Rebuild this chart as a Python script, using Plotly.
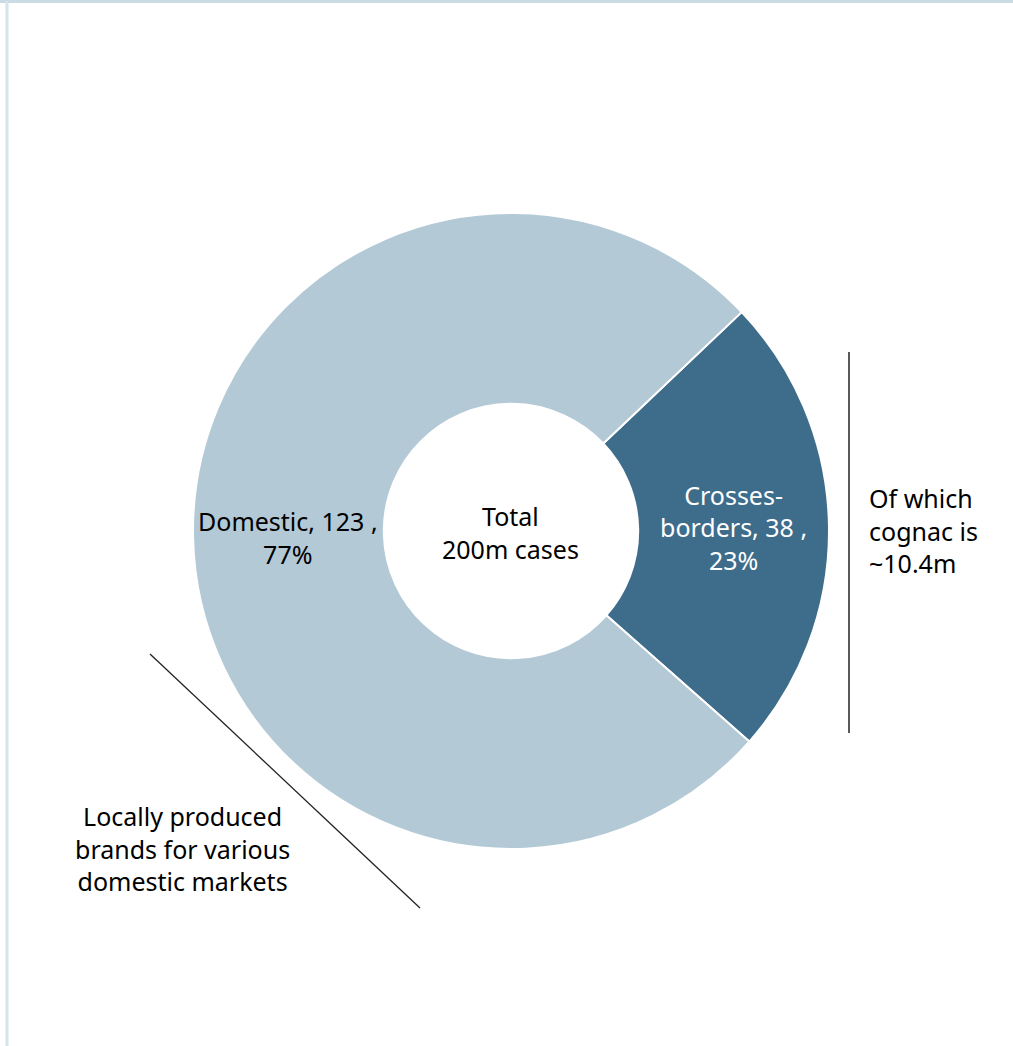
import plotly.graph_objects as go

# Spirits volume split (million cases)
segments = ["Crosses-<br>borders", "Domestic"]
volumes = [38, 123]
shares = [23, 77]
slice_colors = ["#3E6C8B", "#B3C9D6"]
text_colors = ["white", "black"]
total_label = "Total<br>200m cases"
cognac_note = "Of which<br>cognac is<br>~10.4m"
local_note = "Locally produced<br>brands for various<br>domestic markets"

W, H = 1013, 1046
FONT = "Noto Sans"
FS = 25

def px(x):
    return x / W

def py(y):
    return 1 - y / H

labels_text = [f"{s}, {v} ,<br>{p}%" for s, v, p in zip(segments, volumes, shares)]

# the large slice carries its label as an annotation so it stays centred in the ring
fig = go.Figure(
    go.Pie(
        labels=[s.replace("<br>", " ") for s in segments],
        values=volumes,
        text=labels_text,
        textinfo="text",
        textposition=["inside", "none"],
        insidetextorientation="horizontal",
        hole=0.4,
        sort=False,
        direction="clockwise",
        rotation=46.5,
        marker=dict(colors=slice_colors, line=dict(color="white", width=2)),
        textfont=dict(family=FONT, size=FS, color=text_colors),
        domain=dict(x=[px(511 - 318), px(511 + 318)], y=[py(531 + 318), py(531 - 318)]),
        showlegend=False,
        hoverinfo="label+value",
    )
)

annotations = [
    dict(x=px(288), y=py(537), text=labels_text[1], showarrow=False, align="center",
         font=dict(family=FONT, size=FS, color=text_colors[1]), xanchor="center", yanchor="middle"),
    dict(x=px(511), y=py(532), text=total_label, showarrow=False,
         font=dict(family=FONT, size=FS, color="black"), xanchor="center", yanchor="middle"),
    dict(x=px(867), y=py(530), text=cognac_note, showarrow=False, align="left",
         font=dict(family=FONT, size=FS, color="black"), xanchor="left", yanchor="middle"),
    dict(x=px(182), y=py(848), text=local_note, showarrow=False, align="center",
         font=dict(family=FONT, size=FS, color="black"), xanchor="center", yanchor="middle"),
]

shapes = [
    # frame accents
    dict(type="line", xref="paper", yref="paper", x0=0, x1=1, y0=py(1.5), y1=py(1.5),
         line=dict(color="#C9DBE5", width=3)),
    dict(type="line", xref="paper", yref="paper", x0=px(7), x1=px(7), y0=0, y1=py(1),
         line=dict(color="#D6E4ED", width=3)),
    # bracket for cross-border slice
    dict(type="line", xref="paper", yref="paper", x0=px(849), x1=px(849), y0=py(352), y1=py(733),
         line=dict(color="#222222", width=1.5)),
    # pointer for domestic slice
    dict(type="line", xref="paper", yref="paper", x0=px(150), x1=px(420), y0=py(654), y1=py(908),
         line=dict(color="#222222", width=1.3)),
]

fig.update_layout(
    width=W, height=H,
    margin=dict(l=0, r=0, t=0, b=0),
    paper_bgcolor="white", plot_bgcolor="white",
    annotations=annotations,
    shapes=shapes,
    uniformtext=dict(minsize=FS, mode="show"),
)

fig.write_html("out.html")
